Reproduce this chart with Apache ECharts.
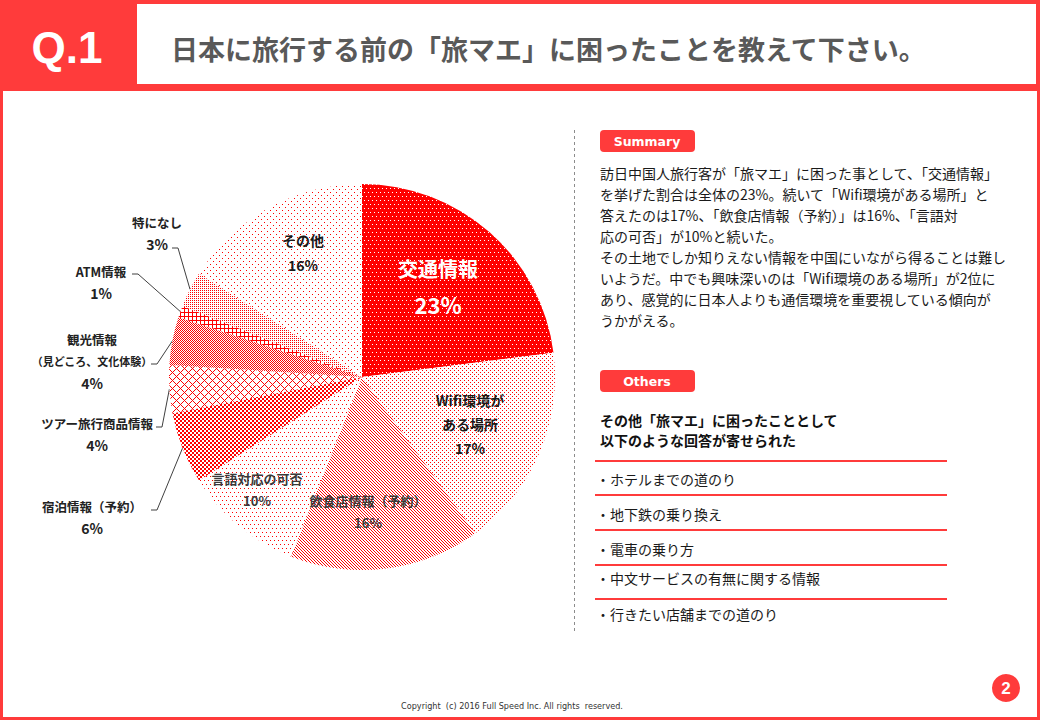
<!DOCTYPE html>
<html><head><meta charset="utf-8">
<script src="https://cdn.jsdelivr.net/npm/echarts@6/dist/echarts.min.js"></script>
<style>html,body{margin:0;padding:0;background:#fff}#c{width:1040px;height:720px}</style>
</head><body><div id="c"></div><script>
// ---------- data ----------
const categories = ['交通情報','Wifi環境がある場所','飲食店情報（予約）','言語対応の可否','宿泊情報（予約）','ツアー旅行商品情報','観光情報（見どころ、文化体験）','ATM情報','特になし','その他'];
const shares = [23,17,16,10,6,4,4,1,3,16];
const labelNames = ['交通情報','Wifi環境が\nある場所','飲食店情報（予約）','言語対応の可否','宿泊情報（予約）','ツアー旅行商品情報','観光情報\n（見どころ、文化体験）','ATM情報','特になし','その他'];
const titleText = '日本に旅行する前の「旅マエ」に困ったことを教えて下さい。';
const qText = 'Q.1';
const summaryLines = [
 '訪日中国人旅行客が「旅マエ」に困った事として、「交通情報」',
 'を挙げた割合は全体の23%。続いて「Wifi環境がある場所」と',
 '答えたのは17%、「飲食店情報（予約）」は16%、「言語対',
 '応の可否」が10%と続いた。',
 'その土地でしか知りえない情報を中国にいながら得ることは難し',
 'いようだ。中でも興味深いのは「Wifi環境のある場所」が2位に',
 'あり、感覚的に日本人よりも通信環境を重要視している傾向が',
 'うかがえる。'];
const othersHeading = ['その他「旅マエ」に困ったこととして','以下のような回答が寄せられた'];
const othersItems = ['・ホテルまでの道のり','・地下鉄の乗り換え','・電車の乗り方','・中文サービスの有無に関する情報','・行きたい店舗までの道のり'];
const copyrightText = 'Copyright  (c) 2016 Full Speed Inc. All rights  reserved.';
const pageNo = '2';

// ---------- styles ----------
const FONT = '"Noto Sans CJK JP", "Noto Sans", sans-serif';
const BRAND = '#FF3B3B';

function pat(w, h, isRed) {
  const c = document.createElement('canvas'); c.width = w; c.height = h;
  const ctx = c.getContext('2d'); const img = ctx.createImageData(w, h);
  for (let y = 0; y < h; y++) for (let x = 0; x < w; x++) {
    const i = (y * w + x) * 4; const r = isRed(x, y);
    img.data[i] = 255; img.data[i+1] = r ? 0 : 255; img.data[i+2] = r ? 0 : 255; img.data[i+3] = 255;
  }
  ctx.putImageData(img, 0, 0);
  return { image: c, repeat: 'repeat' };
}
const patterns = [
  pat(4, 8, (x,y) => !((x===0&&y===0)||(x===2&&y===4))),
  pat(4, 4, (x,y) => (x===0&&y===0)||(x===2&&y===2)),
  pat(3, 3, (x,y) => (((x-y)%3+3)%3) === 0),
  pat(4, 8, (x,y) => (x===0&&y===0)||(x===2&&y===4)),
  pat(4, 4, (x,y) => (((x>>1)+(y>>1))%2)===0),
  pat(8, 8, (x,y) => ((x+y)%8===0)||(((x-y)%8+8)%8===0)),
  pat(2, 2, (x,y) => ((x+y)%2)===0),
  pat(4, 4, (x,y) => x===0||y===0),
  pat(2, 2, (x,y) => x===0&&y===0),
  pat(6, 6, (x,y) => (x===0&&y===0)||(x===3&&y===3))
];

const richSets = [
  {n:{fontSize:20,fontWeight:'bold',color:'#fff',lineHeight:36,fontFamily:FONT}, p:{fontSize:22,fontWeight:'bold',color:'#fff',lineHeight:36,fontFamily:FONT}},
  {n:{fontSize:14,fontWeight:'bold',color:'#1a1a1a',lineHeight:24,fontFamily:FONT}, p:{fontSize:14,fontWeight:'bold',color:'#1a1a1a',lineHeight:24,fontFamily:FONT}},
  {n:{fontSize:13,fontWeight:'bold',color:'#3a3a3a',lineHeight:22,fontFamily:FONT}, p:{fontSize:13,fontWeight:'bold',color:'#3a3a3a',lineHeight:22,fontFamily:FONT}},
  {n:{fontSize:13,fontWeight:'bold',color:'#3a3a3a',lineHeight:22,fontFamily:FONT}, p:{fontSize:13,fontWeight:'bold',color:'#3a3a3a',lineHeight:22,fontFamily:FONT}},
];
const outRich = {n:{fontSize:12.5,fontWeight:'bold',color:'#222',lineHeight:22,fontFamily:FONT}, s:{fontSize:11,fontWeight:'bold',color:'#222',lineHeight:21,fontFamily:FONT}, p:{fontSize:14,fontWeight:'bold',color:'#222',lineHeight:22,fontFamily:FONT}};
const bigRich = {n:{fontSize:14,fontWeight:'bold',color:'#1a1a1a',lineHeight:25,fontFamily:FONT}, p:{fontSize:14,fontWeight:'bold',color:'#1a1a1a',lineHeight:25,fontFamily:FONT}};

// label anchor placement (annotation layout, not data)
const labelPlace = [
  {x:438,y:286},{x:470,y:424},{x:368,y:511},{x:257,y:489},
  {x:92,y:517,line:[[157,510],[151,510]]},
  {x:97,y:434,line:[[162,427],[156,427]]},
  {x:92,y:361,line:[[157,364],[151,364]]},
  {x:101,y:282,line:[[138,274],[132,274]]},
  {x:157,y:233,line:[[178,248],[172,248]]},
  {x:303,y:252}
];

const pieData = categories.map((name, i) => {
  const lines = labelNames[i].split('\n');
  const outside = !!labelPlace[i].line;
  const fmt = lines.map((l, k) => (i===6 && k===1) ? '{s|' + l + '}' : '{n|' + l + '}').join('\n') + '\n{p|' + shares[i] + '%}';
  return {
    name: name, value: shares[i],
    itemStyle: { color: patterns[i] },
    label: { show: true, position: outside ? 'outside' : 'inside', formatter: fmt,
      rich: outside ? outRich : (i===9 ? bigRich : richSets[i]) },
    labelLine: { show: outside, lineStyle: { color: '#404040', width: 1 } }
  };
});

const graphics = [
  {type:'rect', shape:{x:0,y:0,width:1040,height:91}, style:{fill:BRAND}},
  {type:'rect', shape:{x:137,y:4,width:899,height:80}, style:{fill:'#fff'}},
  {type:'rect', shape:{x:1.5,y:1.5,width:1037,height:717}, style:{fill:null,stroke:BRAND,lineWidth:3}},
  {type:'text', x:67, y:47, style:{text:qText, fill:'#fff', fontSize:44, fontWeight:'bold', fontFamily:'"Liberation Sans Narrow","Liberation Sans", sans-serif', align:'center', verticalAlign:'middle', textAlign:'center', textVerticalAlign:'middle'}},
  {type:'text', x:171, y:48, style:{text:titleText, fill:'#595959', fontSize:27, fontWeight:'bold', fontFamily:FONT, align:'left', verticalAlign:'middle', textAlign:'left', textVerticalAlign:'middle'}},
  {type:'line', shape:{x1:574.5,y1:130,x2:574.5,y2:632}, style:{stroke:'#8c8c8c', lineWidth:1, lineDash:[3,3]}},
  {type:'rect', shape:{x:600,y:130,width:95,height:22,r:4}, style:{fill:BRAND}},
  {type:'text', x:647, y:141, style:{text:'Summary', fill:'#fff', fontSize:12.5, fontWeight:'bold', fontFamily:'Verdana, "DejaVu Sans", sans-serif', align:'center', verticalAlign:'middle', textAlign:'center', textVerticalAlign:'middle'}},
  {type:'text', x:600, y:162.5, style:{text:summaryLines.join('\n'), fill:'#1a1a1a', fontSize:14, lineHeight:21, fontFamily:FONT, align:'left', verticalAlign:'top', textAlign:'left', textVerticalAlign:'top'}},
  {type:'rect', shape:{x:600,y:370,width:95,height:22,r:4}, style:{fill:BRAND}},
  {type:'text', x:647, y:381, style:{text:'Others', fill:'#fff', fontSize:12.5, fontWeight:'bold', fontFamily:'Verdana, "DejaVu Sans", sans-serif', align:'center', verticalAlign:'middle', textAlign:'center', textVerticalAlign:'middle'}},
  {type:'text', x:600, y:410, style:{text:othersHeading.join('\n'), fill:'#111', fontSize:14, fontWeight:'bold', lineHeight:20, fontFamily:FONT, align:'left', verticalAlign:'top', textAlign:'left', textVerticalAlign:'top'}},
  {type:'circle', shape:{cx:1006,cy:688,r:14}, style:{fill:BRAND}},
  {type:'text', x:1006, y:688, style:{text:pageNo, fill:'#fff', fontSize:17, fontWeight:'bold', fontFamily:'"Liberation Sans", sans-serif', align:'center', verticalAlign:'middle', textAlign:'center', textVerticalAlign:'middle'}},
  {type:'text', x:512, y:706, style:{text:copyrightText, fill:'#333', fontSize:9, fontFamily:'"DejaVu Sans Condensed","Liberation Sans Narrow", sans-serif', align:'center', verticalAlign:'middle', textAlign:'center', textVerticalAlign:'middle'}}
];
const ruleYs = [461, 495, 530, 565, 599];
const itemYs = [479, 514, 549, 578, 614];
ruleYs.forEach(y => graphics.push({type:'line', shape:{x1:595,y1:y,x2:947,y2:y}, style:{stroke:BRAND, lineWidth:2}}));
othersItems.forEach((t, i) => graphics.push({type:'text', x:596, y:itemYs[i], style:{text:t, fill:'#1a1a1a', fontSize:14, fontFamily:FONT, align:'left', verticalAlign:'middle', textAlign:'left', textVerticalAlign:'middle'}}));

const chart = echarts.init(document.getElementById('c'), null, {renderer:'svg', width:1040, height:720});
chart.setOption({
  backgroundColor: '#fff',
  animation: false,
  textStyle: { fontFamily: FONT },
  graphic: { elements: graphics },
  series: [{
    type: 'pie', center: [362, 377], radius: 193, startAngle: 90, clockwise: true,
    avoidLabelOverlap: false, silent: true, z: 5,
    itemStyle: { borderWidth: 0 },
    labelLine: { length: 10, length2: 10 },
    labelLayout: function (p) {
      const L = labelPlace[p.dataIndex];
      const res = { x: L.x, y: L.y, align: 'center', verticalAlign: 'middle' };
      if (L.line && p.labelLinePoints) {
        res.labelLinePoints = [p.labelLinePoints[0], L.line[0], L.line[1]];
      }
      return res;
    },
    data: pieData
  }]
});
</script></body></html>
